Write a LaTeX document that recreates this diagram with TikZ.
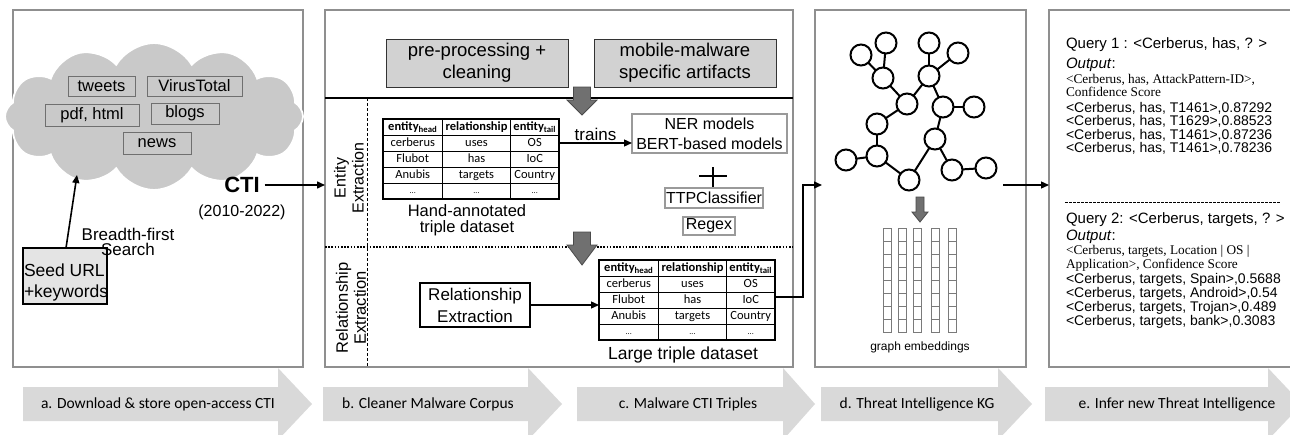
\documentclass[tikz,border=0pt]{standalone}
\usepackage{fontspec}
\setmainfont{Liberation Sans}
\newfontfamily\carl{Carlito}
\newfontfamily\timesf{Liberation Serif}
\usetikzlibrary{arrows.meta,shapes.symbols,calc}
\newcommand\fsz[2]{\fontsize{#1}{#2}\selectfont}
\definecolor{panelc}{HTML}{8F8F8F}
\definecolor{cloudc}{HTML}{C9C9C9}
\definecolor{cboxc}{HTML}{6F6F6F}
\definecolor{boxg}{HTML}{D2D2D2}
\definecolor{seedc}{HTML}{E4E4E4}
\definecolor{arrg}{HTML}{707070}
\definecolor{arrdc}{HTML}{4A4A4A}
\definecolor{stepg}{HTML}{D9D9D9}
\definecolor{embc}{HTML}{7A7A7A}
\definecolor{oboxc}{HTML}{9A9A9A}

\newcommand\stepar[6]{% name, x0, x1, x2, label x, text
  \fill[stepg] (#2,387) -- (#3,387) -- (#3,368) -- (#4,404) -- (#3,440) -- (#3,421) -- (#2,421) -- cycle;
  \node[steplbl] (#1) at (#5,404) {#6};}

\newcommand\tripletable[2]{% name, top-left
  \begin{scope}[shift={(#2)}]
    \node[tbl, anchor=north west, minimum width=176pt, minimum height=80pt] (#1) at (0,0) {};
    \draw[tline] (59.5,0) -- (59.5,80) (127.5,0) -- (127.5,80);
    \foreach \yy in {16,32,48,64} \draw[tline] (0,\yy) -- (176,\yy);
    \node[cell] (#1-h1) at (29.75,8) {\textbf{entity}\textsubscript{\textbf{head}}};
    \node[cell] (#1-h2) at (93.5,8) {\textbf{relationship}};
    \node[cell] (#1-h3) at (151.75,8) {\textbf{entity}\textsubscript{\textbf{tail}}};
    \node[cell] (#1-a1) at (29.75,24) {cerberus};
    \node[cell] (#1-a2) at (93.5,24) {uses};
    \node[cell] (#1-a3) at (151.75,24) {OS};
    \node[cell] (#1-b1) at (29.75,40) {Flubot};
    \node[cell] (#1-b2) at (93.5,40) {has};
    \node[cell] (#1-b3) at (151.75,40) {IoC};
    \node[cell] (#1-c1) at (29.75,56) {Anubis};
    \node[cell] (#1-c2) at (93.5,56) {targets};
    \node[cell] (#1-c3) at (151.75,56) {Country};
    \node[dots] (#1-d1) at (29.75,74) {...};
    \node[dots] (#1-d2) at (93.5,74) {...};
    \node[dots] (#1-d3) at (151.75,74) {...};
    \coordinate (#1-r2) at (176,24);
    \coordinate (#1-r3) at (176,37);
  \end{scope}}

\begin{document}
\begin{tikzpicture}[x=1pt,y=-1pt,
  every node/.style={inner sep=0pt, outer sep=0pt},
  panel/.style={draw=panelc, line width=1.3pt, fill=white, rectangle},
  cbox/.style={draw=cboxc, line width=0.9pt, fill=cloudc, rectangle, font=\fsz{16.5}{18}},
  gbox/.style={draw=black!80, line width=1pt, fill=boxg, rectangle, align=center, font=\fsz{18.5}{22}},
  obox/.style={draw=oboxc, line width=1.4pt, fill=white, rectangle, align=center, font=\fsz{16}{20}},
  arr/.style={-{Triangle[length=8pt,width=7pt]}, line width=1.3pt},
  tbl/.style={draw=black, line width=1.3pt, rectangle, fill=white},
  tline/.style={black, line width=1pt},
  cell/.style={font=\carl\fsz{12.5}{13}, text height=8.6pt, text depth=2.6pt},
  dots/.style={font=\carl\fsz{8}{9}},
  gnode/.style={circle, draw=black, line width=2pt, fill=white, minimum size=21pt},
  gedge/.style={line width=2pt},
  gar/.style={fill=arrg, draw=arrdc, line width=0.8pt},
  steplbl/.style={font=\carl\fsz{15.5}{17}},
  qtxt/.style={anchor=base west, font=\fsz{15}{17}},
  stxt/.style={anchor=base west, font=\timesf\fsz{13.3}{14}},
  dtxt/.style={anchor=base west, font=\fsz{14}{15}},
]
\useasboundingbox (0,0) rectangle (1290,434);
\clip (0,0) rectangle (1290,434);

% bottom step arrows
\stepar{sa}{23}{278}{312}{158}{a. Download \& store open-access CTI}
\stepar{sb}{323}{528}{562}{428}{b. Cleaner Malware Corpus}
\stepar{sc}{577}{783}{815}{688}{c. Malware CTI Triples}
\stepar{sd}{821}{998}{1032}{917}{d. Threat Intelligence KG}
\stepar{se}{1045}{1268}{1302}{1177}{e. Infer new Threat Intelligence}

% panels
\node[panel, minimum width=290pt, minimum height=357pt] (pa) at (158,188.5) {};
\node[panel, minimum width=468pt, minimum height=357pt] (pm) at (559,188.5) {};
\node[panel, minimum width=211pt, minimum height=357pt] (pd) at (920.5,188.5) {};
\node[panel, minimum width=261pt, minimum height=357pt] (pe) at (1179.5,188.5) {};

% ---- panel a
\node[cloud, cloud puffs=12, cloud puff arc=120, cloud ignores aspect, draw=white, line width=1.8pt,
      fill=cloudc, minimum width=298pt, minimum height=147pt] (cloud) at (154,116.5) {};
\node[cbox, minimum width=67pt, minimum height=20pt] (tw) at (101.5,86) {tweets};
\node[cbox, minimum width=95pt, minimum height=20pt] (vt) at (194.5,86) {VirusTotal};
\node[cbox, minimum width=94pt, minimum height=22pt] (ph) at (92,115) {pdf, html};
\node[cbox, minimum width=68pt, minimum height=21pt] (bl) at (185,113.5) {blogs};
\node[cbox, minimum width=68pt, minimum height=22pt] (nw) at (157,143) {news};

\node[draw=black, line width=1.2pt, fill=seedc, minimum width=84pt, minimum height=56pt] (seed) at (65,276) {};
\node[anchor=west, align=left, font=\fsz{17.5}{21}] (seedt) at (24,282.5) {Seed URL\\+keywords};
\coordinate (cl) at (77,175);
\draw[arr, line width=1.6pt] ([xshift=1pt]seed.north) -- (cl);
\node[align=center, font=\fsz{17}{15}] (bfs) at (128,242) {Breadth-first\\Search};

\node[font=\bfseries\fsz{22}{24}] (cti) at (242,185) {CTI};
\node[font=\fsz{16}{18}] (yr) at (242,212) {(2010-2022)};
\draw[arr, line width=1.5pt] ([xshift=5pt]cti.east) -- (cti.east -| pm.west);

% ---- middle panel
\node[gbox, minimum width=182pt, minimum height=48pt] (pre) at (477,63) {pre-processing +\\cleaning};
\node[gbox, minimum width=182pt, minimum height=48pt] (mob) at (685,63) {mobile-malware\\specific artifacts};
\draw[line width=1.2pt] (325,98) -- (793,98);
\draw[line width=0.9pt, dash pattern=on 3pt off 2pt] (367,98) -- (367,367);
\draw[line width=2pt, dash pattern=on 1.6pt off 1.6pt] (325,247) -- (793,247);

\filldraw[gar] (573.5,87) -- (590.5,87) -- (590.5,100) -- (597,100) -- (582,115) -- (567,100) -- (573.5,100) -- cycle;
\filldraw[gar] (573.5,232) -- (590.5,232) -- (590.5,245) -- (597,245) -- (582,265) -- (567,245) -- (573.5,245) -- cycle;

\node[rotate=90, align=center, font=\fsz{16}{18}] (ee) at (349,178) {Entity\\Extraction};
\node[rotate=90, align=center, font=\fsz{16.5}{18}] (rex) at (351,308) {Relationship\\Extraction};

\tripletable{t1}{383,119}
\node[font=\fsz{16.5}{16.5}, align=center] (t1cap) at (467,220) {Hand-annotated\\triple dataset};

\node[obox, minimum width=155pt, minimum height=39pt] (ner) at (709.5,133.5) {NER models\\BERT-based models};
\draw[arr] (t1-r2) -- node[above=2pt, font=\fsz{17}{18}] (trn) {trains} (ner.west |- t1-r2);
\draw[line width=1.5pt] (699,176) -- (727,176) (713,167) -- (713,188);
\node[obox, minimum width=98pt, minimum height=20pt] (ttp) at (714,198) {TTPClassifier};
\node[obox, minimum width=52pt, minimum height=18pt] (rgx) at (709,226) {Regex};

\node[draw=black, line width=1.2pt, fill=white, minimum width=110pt, minimum height=44pt,
      align=center, font=\fsz{17}{22}] (re) at (475,305) {Relationship\\Extraction};
\tripletable{t2}{599,260}
\draw[arr] (re.east) -- (re.east -| t2.west);
\node[font=\fsz{17.5}{18}] (t2cap) at (683,355) {Large triple dataset};

\coordinate (pdin) at (822,185);
\draw[arr] (t2-r3) -- ++(28,0) |- (pdin);

% ---- panel d
\node[gnode] (g1) at (861,55) {};
\node[gnode] (g2) at (886,43) {};
\node[gnode] (g3) at (883,78) {};
\node[gnode] (g4) at (929,43) {};
\node[gnode] (g5) at (958,53) {};
\node[gnode] (g6) at (929,76) {};
\node[gnode] (g7) at (907,104) {};
\node[gnode] (g8) at (943,107) {};
\node[gnode] (g9) at (974,107) {};
\node[gnode] (g10) at (877,124) {};
\node[gnode] (g11) at (935,139) {};
\node[gnode] (g12) at (877,156) {};
\node[gnode] (g13) at (846,160) {};
\node[gnode] (g14) at (909,180) {};
\node[gnode] (g15) at (952,170) {};
\node[gnode] (g16) at (986,168) {};
\foreach \a/\b in {g1/g3,g2/g3,g3/g7,g7/g6,g6/g4,g6/g5,g6/g8,g8/g9,g8/g11,g7/g10,g10/g12,g12/g13,g12/g14,g14/g11,g11/g15,g15/g16}
  \draw[gedge] (\a) -- (\b);

\filldraw[gar] (916,197) -- (924,197) -- (924,212) -- (928,212) -- (920,222) -- (912,212) -- (916,212) -- cycle;
\foreach \xx in {883,898,913,931,948}{
  \foreach \k in {0,...,7}{
    \draw[embc, line width=0.7pt] (\xx,{228+13*\k}) rectangle ++(8.5,13);
  }
}
\node[font=\fsz{12}{13}] (ge) at (920,347) {graph embeddings};
\coordinate (gout) at (1003,185);
\draw[arr] (gout) -- (pe.west |- gout);

% ---- panel e
\node[qtxt] (q1) at (1066,48.5) {Query 1 : <Cerberus, has, ? >};
\node[qtxt] (q1o) at (1066,68.5) {\textit{Output}:};
\node[stxt] (q1s1) at (1066,83.3) {<Cerberus, has, AttackPattern-ID>,};
\node[stxt] (q1s2) at (1066,96.3) {Confidence Score};
\node[dtxt] (q1d1) at (1066,112) {<Cerberus, has, T1461>,0.87292};
\node[dtxt] (q1d2) at (1066,125.5) {<Cerberus, has, T1629>,0.88523};
\node[dtxt] (q1d3) at (1066,139) {<Cerberus, has, T1461>,0.87236};
\node[dtxt] (q1d4) at (1066,152.5) {<Cerberus, has, T1461>,0.78236};
\draw[line width=0.9pt, dash pattern=on 2.5pt off 1.5pt] (1065,202) -- (1280,202);
\node[qtxt] (q2) at (1066,223.5) {Query 2: <Cerberus, targets, ? >};
\node[qtxt] (q2o) at (1066,240.5) {\textit{Output}:};
\node[stxt] (q2s1) at (1066,254.3) {<Cerberus, targets, Location | OS |};
\node[stxt] (q2s2) at (1066,268.3) {Application>, Confidence Score};
\node[dtxt] (q2d1) at (1066,283) {<Cerberus, targets, Spain>,0.5688};
\node[dtxt] (q2d2) at (1066,297) {<Cerberus, targets, Android>,0.54};
\node[dtxt] (q2d3) at (1066,311) {<Cerberus, targets, Trojan>,0.489};
\node[dtxt] (q2d4) at (1066,325) {<Cerberus, targets, bank>,0.3083};
\end{tikzpicture}
\end{document}
